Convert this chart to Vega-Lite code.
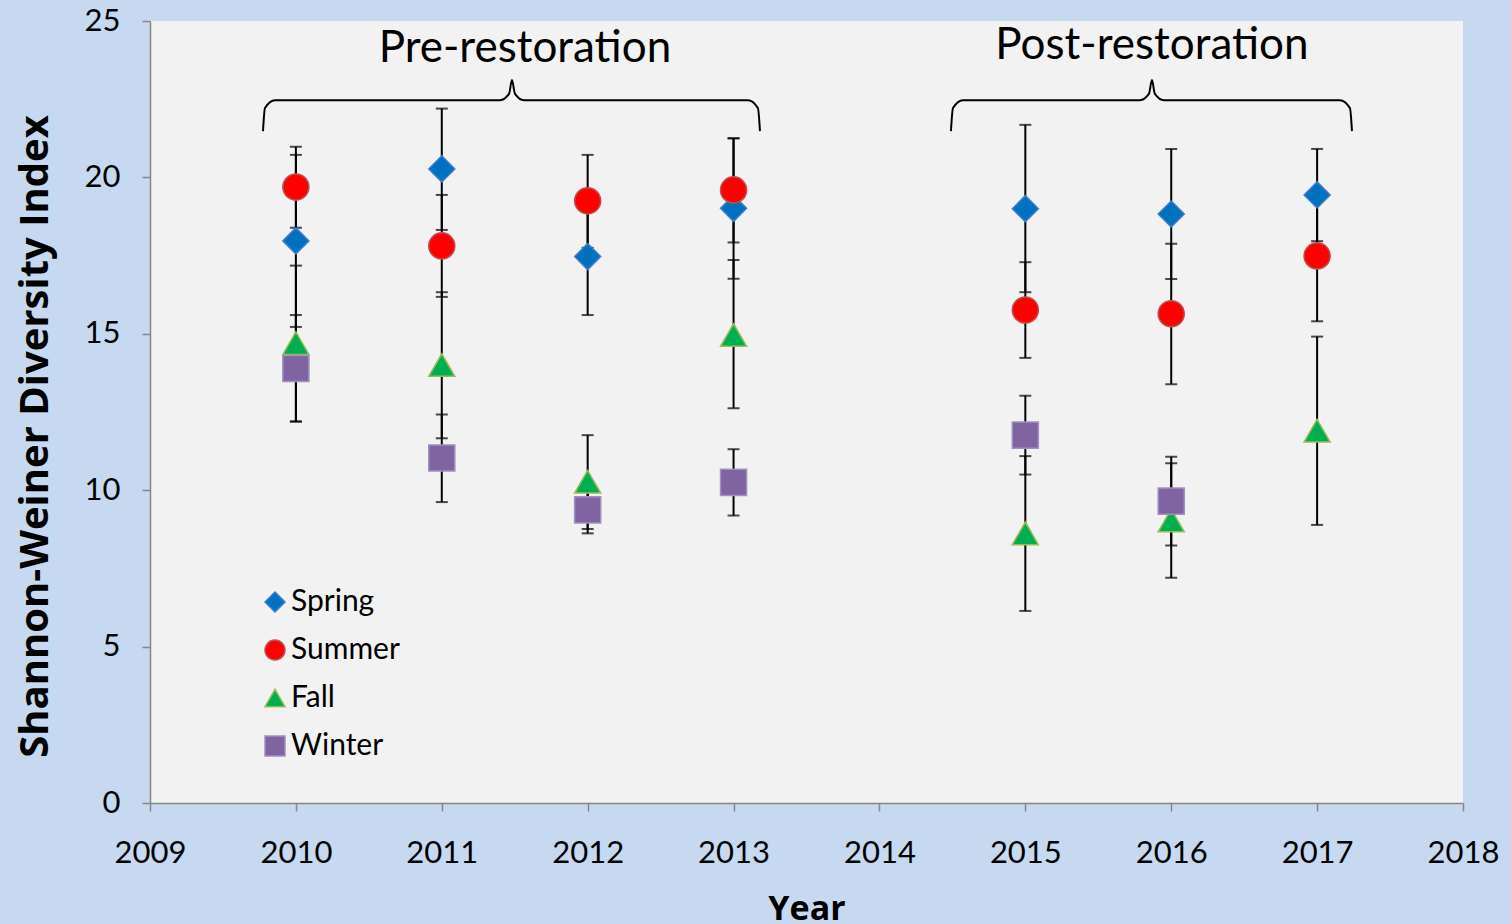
{
  "$schema": "https://vega.github.io/schema/vega-lite/v6.json",
  "width": 1313,
  "height": 782,
  "autosize": {"type": "none"},
  "padding": {"left": 150, "top": 21, "right": 48, "bottom": 121},
  "background": "#c6d9f0",
  "config": {
    "view": {"fill": "#f2f2f2", "stroke": null},
    "font": "Lato",
    "axis": {"grid": false, "domainColor": "#868686", "tickColor": "#868686", "domainWidth": 1.5, "tickWidth": 1.5, "tickSize": 8, "labelColor": "black", "labelFontSize": 31, "labelFont": "Lato", "labelFlush": false, "labelOverlap": false, "titleColor": "black", "titleFont": "Open Sans", "titleFontWeight": "bold", "titleFontSize": 36}
  },
  "datasets": {
    "obs": [
      {"season": "Spring", "year": 2010, "value": 17.97, "lo": 15.22, "hi": 20.72},
      {"season": "Spring", "year": 2011, "value": 20.27, "lo": 18.32, "hi": 22.2},
      {"season": "Spring", "year": 2012, "value": 17.47, "lo": 15.6, "hi": 19.34},
      {"season": "Spring", "year": 2013, "value": 19.01, "lo": 16.76, "hi": 21.25},
      {"season": "Spring", "year": 2015, "value": 19.0, "lo": 16.33, "hi": 21.68},
      {"season": "Spring", "year": 2016, "value": 18.83, "lo": 16.75, "hi": 20.91},
      {"season": "Spring", "year": 2017, "value": 19.44, "lo": 17.96, "hi": 20.91},
      {"season": "Summer", "year": 2010, "value": 19.69, "lo": 18.39, "hi": 20.98},
      {"season": "Summer", "year": 2011, "value": 17.81, "lo": 16.18, "hi": 19.44},
      {"season": "Summer", "year": 2012, "value": 19.25, "lo": 17.75, "hi": 20.72},
      {"season": "Summer", "year": 2013, "value": 19.6, "lo": 17.92, "hi": 21.25},
      {"season": "Summer", "year": 2015, "value": 15.76, "lo": 14.23, "hi": 17.29},
      {"season": "Summer", "year": 2016, "value": 15.64, "lo": 13.39, "hi": 17.88},
      {"season": "Summer", "year": 2017, "value": 17.49, "lo": 15.4, "hi": 19.58},
      {"season": "Fall", "year": 2010, "value": 14.7, "lo": 12.2, "hi": 17.18},
      {"season": "Fall", "year": 2011, "value": 14.0, "lo": 11.66, "hi": 16.33},
      {"season": "Fall", "year": 2012, "value": 10.27, "lo": 8.76, "hi": 11.76},
      {"season": "Fall", "year": 2013, "value": 14.96, "lo": 12.62, "hi": 17.36},
      {"season": "Fall", "year": 2015, "value": 8.62, "lo": 6.14, "hi": 11.09},
      {"season": "Fall", "year": 2016, "value": 9.03, "lo": 7.2, "hi": 10.86},
      {"season": "Fall", "year": 2017, "value": 11.9, "lo": 8.89, "hi": 14.91},
      {"season": "Winter", "year": 2010, "value": 13.89, "lo": 12.19, "hi": 15.6},
      {"season": "Winter", "year": 2011, "value": 11.03, "lo": 9.62, "hi": 12.42},
      {"season": "Winter", "year": 2012, "value": 9.37, "lo": 8.62, "hi": 10.12},
      {"season": "Winter", "year": 2013, "value": 10.25, "lo": 9.19, "hi": 11.31},
      {"season": "Winter", "year": 2015, "value": 11.76, "lo": 10.5, "hi": 13.02},
      {"season": "Winter", "year": 2016, "value": 9.65, "lo": 8.23, "hi": 11.07}
    ],
    "braces": [
      {"group": "pre", "k": 1, "x": 2009.7745, "y": 21.48},
      {"group": "pre", "k": 2, "x": 2009.788, "y": 22.22},
      {"group": "pre", "k": 3, "x": 2009.857, "y": 22.47},
      {"group": "pre", "k": 4, "x": 2011.399, "y": 22.47},
      {"group": "pre", "k": 5, "x": 2011.461, "y": 22.67},
      {"group": "pre", "k": 6, "x": 2011.481, "y": 23.11},
      {"group": "pre", "k": 7, "x": 2011.502, "y": 22.67},
      {"group": "pre", "k": 8, "x": 2011.563, "y": 22.47},
      {"group": "pre", "k": 9, "x": 2013.099, "y": 22.47},
      {"group": "pre", "k": 10, "x": 2013.167, "y": 22.22},
      {"group": "pre", "k": 11, "x": 2013.181, "y": 21.48},
      {"group": "post", "k": 1, "x": 2014.49, "y": 21.48},
      {"group": "post", "k": 2, "x": 2014.504, "y": 22.22},
      {"group": "post", "k": 3, "x": 2014.572, "y": 22.47},
      {"group": "post", "k": 4, "x": 2015.785, "y": 22.47},
      {"group": "post", "k": 5, "x": 2015.847, "y": 22.67},
      {"group": "post", "k": 6, "x": 2015.868, "y": 23.11},
      {"group": "post", "k": 7, "x": 2015.888, "y": 22.67},
      {"group": "post", "k": 8, "x": 2015.95, "y": 22.47},
      {"group": "post", "k": 9, "x": 2017.156, "y": 22.47},
      {"group": "post", "k": 10, "x": 2017.225, "y": 22.22},
      {"group": "post", "k": 11, "x": 2017.239, "y": 21.48}
    ],
    "labels": [
      {"text": "Pre-restoration", "x": 2011.57, "y": 24.12},
      {"text": "Post-restoration", "x": 2015.868, "y": 24.21}
    ]
  },
  "layer": [
    {
      "data": {"name": "braces"},
      "mark": {"type": "line", "color": "black", "strokeWidth": 2, "interpolate": "monotone"},
      "encoding": {
        "x": {"field": "x", "type": "quantitative", "scale": {"domain": [2009, 2018], "nice": false, "zero": false}, "axis": {"title": "Year", "values": [2009, 2010, 2011, 2012, 2013, 2014, 2015, 2016, 2017, 2018], "format": "d", "labelPadding": 27, "titleFontSize": 34, "titleY": 106, "titleBaseline": "middle"}},
        "y": {"field": "y", "type": "quantitative", "scale": {"domain": [0, 25], "nice": false}, "axis": {"title": "Shannon-Weiner Diversity Index", "values": [0, 5, 10, 15, 20, 25], "labelPadding": 22, "titleFontSize": 40, "titleX": -115, "titleY": 415, "titleAngle": -90, "titleAlign": "center", "titleBaseline": "middle"}},
        "detail": {"field": "group"},
        "order": {"field": "k", "type": "quantitative"}
      }
    },
    {
      "data": {"name": "labels"},
      "mark": {"type": "text", "fontSize": 44, "font": "Lato", "color": "black", "align": "center", "baseline": "middle"},
      "encoding": {
        "x": {"field": "x", "type": "quantitative"},
        "y": {"field": "y", "type": "quantitative"},
        "text": {"field": "text"}
      }
    },
    {
      "data": {"name": "obs"},
      "mark": {"type": "rule", "color": "black", "strokeWidth": 2},
      "encoding": {
        "x": {"field": "year", "type": "quantitative"},
        "y": {"field": "lo", "type": "quantitative"},
        "y2": {"field": "hi"}
      }
    },
    {
      "data": {"name": "obs"},
      "mark": {"type": "tick", "orient": "horizontal", "color": "black", "size": 12, "thickness": 2},
      "encoding": {
        "x": {"field": "year", "type": "quantitative"},
        "y": {"field": "lo", "type": "quantitative"}
      }
    },
    {
      "data": {"name": "obs"},
      "mark": {"type": "tick", "orient": "horizontal", "color": "black", "size": 12, "thickness": 2},
      "encoding": {
        "x": {"field": "year", "type": "quantitative"},
        "y": {"field": "hi", "type": "quantitative"}
      }
    },
    {
      "data": {"name": "obs"},
      "mark": {"type": "point", "filled": true, "opacity": 1, "size": 680, "strokeWidth": 1.5},
      "encoding": {
        "x": {"field": "year", "type": "quantitative"},
        "y": {"field": "value", "type": "quantitative"},
        "color": {"field": "season", "type": "nominal", "scale": {"domain": ["Spring", "Summer", "Fall", "Winter"], "range": ["#0070c0", "#ff0000", "#00b050", "#8064a2"]}, "legend": {"title": null, "orient": "none", "legendX": 110, "legendY": 566, "padding": 0, "symbolSize": 400, "labelFontSize": 30, "labelFont": "Lato", "labelColor": "black", "labelOffset": 1, "rowPadding": 18, "symbolStrokeWidth": 1.5}},
        "stroke": {"field": "season", "type": "nominal", "scale": {"domain": ["Spring", "Summer", "Fall", "Winter"], "range": ["#3c7fc8", "#c0504d", "#9bbb59", "#a190c0"]}, "legend": {"title": null, "orient": "none", "legendX": 110, "legendY": 566, "padding": 0, "symbolSize": 400, "labelFontSize": 30, "labelFont": "Lato", "labelColor": "black", "labelOffset": 1, "rowPadding": 18, "symbolStrokeWidth": 1.5}},
        "shape": {"field": "season", "type": "nominal", "scale": {"domain": ["Spring", "Summer", "Fall", "Winter"], "range": ["diamond", "circle", "triangle-up", "square"]}, "legend": {"title": null, "orient": "none", "legendX": 110, "legendY": 566, "padding": 0, "symbolSize": 400, "labelFontSize": 30, "labelFont": "Lato", "labelColor": "black", "labelOffset": 1, "rowPadding": 18, "symbolStrokeWidth": 1.5}}
      }
    }
  ]
}
